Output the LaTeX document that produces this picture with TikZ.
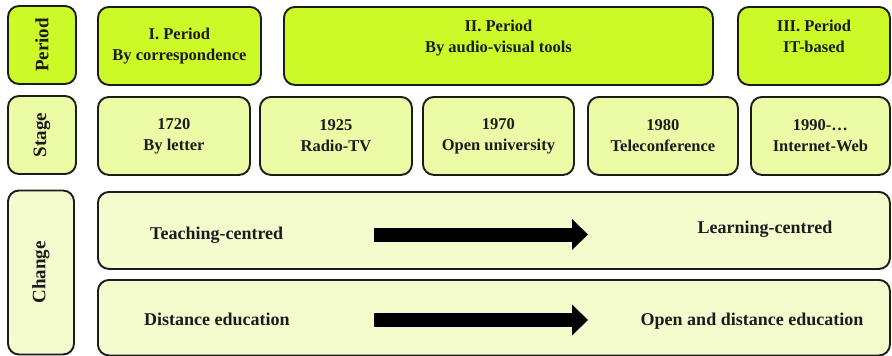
\documentclass[tikz,border=0pt]{standalone}
\usepackage{fontspec}
\setmainfont{Liberation Serif}
\usetikzlibrary{positioning,arrows.meta}

\definecolor{periodgreen}{RGB}{204,250,40}
\definecolor{stagegreen}{RGB}{236,252,166}
\definecolor{changeyellow}{RGB}{244,252,206}
\definecolor{inkline}{RGB}{28,28,28}

\tikzset{
  box/.style={draw=inkline,line width=1.9pt,rounded corners=11pt,anchor=north west,
    inner sep=0pt,align=center,text=inkline,font=\bfseries\fontsize{16.5}{21}\selectfont},
  periodbox/.style={box,fill=periodgreen,minimum height=78pt},
  stagebox/.style={box,fill=stagegreen,minimum height=78pt},
  changebox/.style={box,fill=changeyellow,minimum width=792pt},
  rowname/.style={box,anchor=center,rotate=90,font=\bfseries\fontsize{19}{22}\selectfont},
  toptext/.style={anchor=north,inner sep=0pt,align=center,text=inkline,
    font=\bfseries\fontsize{16.5}{21}\selectfont},
  changetext/.style={inner sep=0pt,text=inkline,font=\bfseries\fontsize{18}{22}\selectfont},
  fatarrow/.style={line width=14pt,black,-{Triangle[length=16pt,width=30pt]}}
}

\begin{document}
\begin{tikzpicture}[x=1pt,y=-1pt]
\useasboundingbox (0,0) rectangle (892,356);

% row names
\node (period) [rowname,fill=periodgreen,minimum width=78pt,minimum height=68pt] at (42,45) {Period};
\node (stage) [rowname,fill=stagegreen,minimum width=78pt,minimum height=68pt] at (42,135) {Stage};
\node (change) [rowname,fill=changeyellow,minimum width=164pt,minimum height=66pt] at (41,272.5) {Change};

% periods
\node (p1) [periodbox,minimum width=163pt] at (97,6) {I. Period\\By correspondence};
\node (p2) [periodbox,minimum width=429pt] at (283,6) {};
\node (p3) [periodbox,minimum width=152pt] at (737,6) {};
\node [toptext,below=14pt of p2.north] {II. Period\\By audio-visual tools};
\node [toptext,below=14pt of p3.north] {III. Period\\IT-based};

% stages
\node (s1) [stagebox,minimum width=152pt] at (97,96) {1720\\By letter};
\node (s2) [stagebox,minimum width=152pt] at (259,96) {1925\\Radio-TV};
\node (s3) [stagebox,minimum width=151pt] at (422,96) {1970\\Open university};
\node (s4) [stagebox,minimum width=150pt] at (587,96) {1980\\Teleconference};
\node (s5) [stagebox,minimum width=139pt] at (750,96) {1990-\ldots\\Internet-Web};

% changes
\node (c1) [changebox,minimum height=77pt] at (97,191) {};
\node (c2) [changebox,minimum height=75.5pt] at (97,279) {};

\node (teach) [changetext,anchor=base west] at (150,239) {Teaching-centred};
\node (learn) [changetext,anchor=base] at (765,233) {Learning-centred};
\node (dist) [changetext,anchor=base west] at (144,325) {Distance education};
\node (odl) [changetext,anchor=base] at (752,325) {Open and distance education};

\coordinate (a1) at (374,234.5);
\coordinate (b1) at (588,234.5);
\coordinate (a2) at (374,320);
\coordinate (b2) at (588,320);
\path [fatarrow]
    (a1) edge (b1)
    (a2) edge (b2)
;

\end{tikzpicture}
\end{document}
